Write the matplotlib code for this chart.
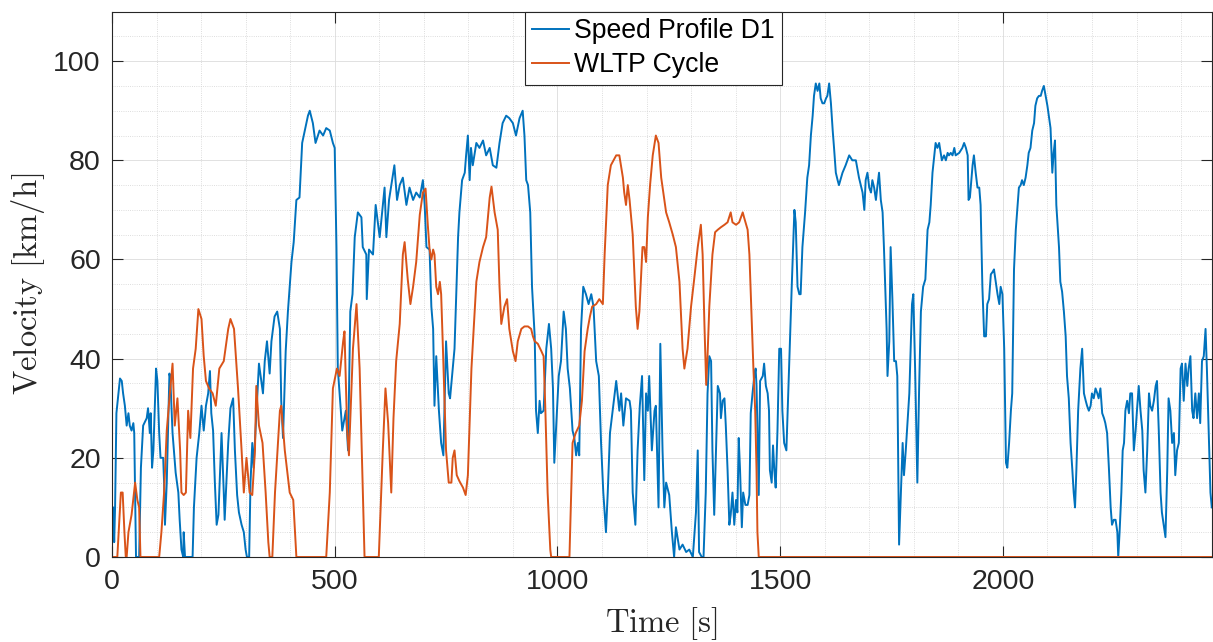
import matplotlib
matplotlib.use('Agg')
import matplotlib.pyplot as plt
from matplotlib.ticker import MultipleLocator

# Speed Profile D1 (time in s, speed in km/h)
d1_time = [
    0, 3, 5, 7, 10, 18, 22, 25, 29, 33,
    37, 40, 44, 48, 50, 54, 61, 65, 70, 78,
    81, 85, 87, 90, 93, 99, 102, 106, 109, 115,
    117, 119, 123, 129, 131, 136, 143, 149, 152, 156,
    160, 161, 164, 181, 184, 190, 196, 201, 206, 211,
    216, 220, 223, 227, 231, 235, 239, 246, 251, 253,
    261, 266, 272, 276, 281, 285, 291, 296, 300, 303,
    308, 311, 315, 318, 326, 330, 339, 343, 348, 354,
    358, 365, 371, 377, 380, 384, 390, 395, 403, 408,
    414, 421, 427, 433, 440, 444, 451, 457, 466, 474,
    481, 489, 496, 500, 504, 507, 517, 525, 530, 535,
    540, 545, 552, 560, 563, 571, 572, 577, 586, 592,
    601, 612, 616, 622, 634, 640, 646, 653, 661, 668,
    676, 683, 691, 698, 702, 706, 713, 717, 721, 724,
    728, 734, 739, 744, 750, 756, 759, 764, 769, 777,
    780, 786, 792, 795, 799, 803, 806, 810, 818, 825,
    833, 840, 848, 855, 863, 870, 877, 885, 892, 900,
    907, 915, 922, 926, 930, 934, 939, 943, 949, 952,
    956, 960, 963, 969, 975, 981, 986, 990, 993, 999,
    1003, 1008, 1014, 1019, 1023, 1028, 1034, 1038, 1042, 1046,
    1049, 1053, 1058, 1064, 1070, 1076, 1081, 1087, 1093, 1098,
    1103, 1109, 1113, 1118, 1124, 1132, 1135, 1139, 1143, 1148,
    1154, 1162, 1165, 1169, 1175, 1180, 1185, 1190, 1195, 1199,
    1203, 1206, 1212, 1218, 1221, 1227, 1231, 1236, 1240, 1244,
    1251, 1257, 1262, 1266, 1274, 1281, 1289, 1296, 1304, 1311,
    1315, 1318, 1324, 1328, 1333, 1337, 1341, 1345, 1348, 1352,
    1356, 1360, 1365, 1367, 1371, 1375, 1378, 1382, 1386, 1389,
    1393, 1397, 1401, 1404, 1407, 1410, 1414, 1417, 1422, 1427,
    1431, 1434, 1438, 1442, 1445, 1447, 1452, 1455, 1461, 1464,
    1468, 1472, 1475, 1477, 1481, 1484, 1487, 1490, 1494, 1498,
    1502, 1505, 1509, 1514, 1520, 1526, 1532, 1535, 1539, 1543,
    1546, 1550, 1556, 1561, 1565, 1569, 1573, 1576, 1580, 1584,
    1588, 1591, 1595, 1599, 1603, 1606, 1610, 1614, 1618, 1621,
    1625, 1629, 1632, 1640, 1647, 1655, 1662, 1670, 1677, 1685,
    1689, 1692, 1696, 1700, 1704, 1707, 1711, 1715, 1718, 1722,
    1726, 1730, 1733, 1736, 1739, 1741, 1745, 1748, 1752, 1756,
    1760, 1763, 1767, 1771, 1775, 1778, 1782, 1790, 1796, 1799,
    1803, 1808, 1812, 1816, 1821, 1826, 1831, 1835, 1838, 1842,
    1846, 1849, 1853, 1857, 1863, 1868, 1872, 1876, 1879, 1883,
    1887, 1891, 1894, 1902, 1909, 1913, 1917, 1921, 1923, 1926,
    1932, 1935, 1939, 1943, 1947, 1950, 1954, 1958, 1962, 1965,
    1969, 1973, 1977, 1980, 1984, 1988, 1992, 1995, 1999, 2003,
    2007, 2010, 2014, 2018, 2021, 2025, 2029, 2033, 2036, 2040,
    2043, 2047, 2051, 2055, 2058, 2062, 2066, 2070, 2073, 2077,
    2081, 2085, 2088, 2092, 2096, 2100, 2103, 2107, 2111, 2114,
    2117, 2120, 2126, 2129, 2133, 2137, 2141, 2144, 2148, 2152,
    2156, 2159, 2162, 2165, 2169, 2174, 2178, 2182, 2186, 2189,
    2193, 2197, 2200, 2204, 2208, 2212, 2215, 2219, 2223, 2227,
    2230, 2234, 2238, 2242, 2245, 2249, 2253, 2257, 2259, 2262,
    2266, 2269, 2272, 2275, 2279, 2283, 2286, 2290, 2294, 2298,
    2301, 2305, 2309, 2313, 2316, 2320, 2324, 2328, 2331, 2335,
    2339, 2343, 2346, 2350, 2354, 2357, 2361, 2365, 2369, 2372,
    2376, 2380, 2384, 2387, 2391, 2395, 2399, 2402, 2406, 2410,
    2414, 2417, 2421, 2425, 2428, 2432, 2436, 2440, 2443, 2447,
    2451, 2455, 2458, 2462, 2466, 2469,
]
d1_speed = [
    2, 10, 3, 10, 29, 36, 35.5, 33, 30.5, 26.5,
    29, 26.5, 25.5, 27, 25, 0, 0, 18, 26.5, 28,
    30, 25, 29, 18, 21.5, 38, 35.5, 25, 20, 20,
    15, 6.5, 15, 37, 36, 25, 17, 13, 7.5, 1.5,
    0, 5, 0, 0, 10, 20, 25, 30.5, 25.5, 30.5,
    33, 37.5, 29, 25.5, 15, 6.5, 8.5, 25, 13, 7.5,
    23, 30, 32, 21.5, 12.5, 9, 6.5, 5, 1.5, 0,
    0, 15, 23, 18, 32, 39, 33, 39.5, 43.5, 37,
    43.5, 48.5, 49.5, 46, 31.5, 24, 41.5, 49.5, 59.5, 63.5,
    72, 72.5, 83.5, 86, 89, 90, 87.5, 83.5, 86, 85,
    86.5, 86, 83.5, 82.5, 62.5, 38, 25.5, 29.5, 21.5, 49.5,
    53, 64.5, 69.5, 68.5, 62.5, 61, 52, 62, 61, 71,
    64.5, 74.5, 64.5, 72, 79, 72, 75, 76.5, 71, 74.5,
    72, 73.5, 72.5, 76, 71, 62.5, 62, 50.5, 46, 30.5,
    40.5, 29.5, 23, 20.5, 43.5, 33, 32, 37, 42, 64.5,
    69.5, 76, 77.5, 81, 85, 76, 82.5, 79, 83.5, 82.5,
    84, 81, 82.5, 79, 78.5, 83.5, 87.5, 89, 88.5, 87.5,
    85, 88.5, 90, 85, 76, 75, 69.5, 54.5, 44.5, 29.5,
    25, 31.5, 29, 29.5, 42, 47, 42, 34, 19, 29.5,
    36.5, 39.5, 49.5, 46, 38, 34, 25.5, 24, 20.5, 23,
    20.5, 46, 54.5, 53, 51, 53, 50.5, 39.5, 36.5, 23,
    13, 5, 13, 25, 29.5, 35.5, 33, 29.5, 33, 26.5,
    32, 31.5, 29.5, 13, 6.5, 21.5, 30.5, 36.5, 15.5, 33,
    29.5, 36.5, 21.5, 29.5, 30.5, 10, 43, 21.5, 10, 15,
    12.5, 5, 0, 6, 1.5, 2.5, 1, 1.5, 0, 9,
    21.5, 1, 0, 0, 13, 33, 40.5, 39.5, 21.5, 8.5,
    21.5, 34.5, 33, 28, 31.5, 32, 26.5, 17.5, 6.5, 8.5,
    13, 6.5, 11.5, 9, 24, 17.5, 6, 13, 10.5, 10.5,
    12.5, 29, 33, 36.5, 38, 34.5, 12.5, 35.5, 36.5, 39,
    34.5, 33, 29.5, 17.5, 15, 22.5, 17.5, 14, 25.5, 42,
    42, 29.5, 23, 21.5, 38, 54.5, 70, 67.5, 54.5, 53,
    53, 62.5, 69.5, 76.5, 79, 85, 89, 93, 95.5, 94,
    95.5, 92.5, 91.5, 91.5, 92.5, 93, 95.5, 91.5, 86, 82.5,
    77.5, 76, 75, 77.5, 79, 81, 80, 80, 76.5, 73.5,
    70, 76, 77.5, 74.5, 73.5, 76, 74.5, 72, 74.5, 77.5,
    72, 69.5, 62.5, 54.5, 46, 36.5, 43.5, 62.5, 52, 39.5,
    39.5, 36.5, 2.5, 13, 23, 16.5, 21.5, 33, 51, 53,
    38, 15, 34, 49.5, 54.5, 56, 66, 67.5, 71, 77.5,
    81, 83.5, 82.5, 83.5, 80, 81, 80, 81.5, 81, 81.5,
    81, 82.5, 81, 81.5, 82.5, 83.5, 82.5, 81, 72, 72.5,
    79, 81, 77.5, 74.5, 74.5, 71, 54.5, 44.5, 44.5, 51,
    52, 57, 57.5, 58, 55.5, 53, 51, 54.5, 53, 42,
    19, 18, 23, 29.5, 33, 58, 66, 71, 74.5, 75,
    76, 75, 76.5, 79, 81.5, 82.5, 86, 87.5, 91, 92.5,
    93, 93, 94, 95, 93, 91, 89, 86.5, 77.5, 81.5,
    84, 71, 62.5, 55.5, 53.5, 49.5, 44.5, 36.5, 32, 23,
    17.5, 13, 10, 17.5, 29.5, 38, 42, 33, 31.5, 30.5,
    29.5, 30.5, 33, 32, 34, 33, 32, 34, 29, 28,
    27, 25, 18, 10, 6.5, 7.5, 7.5, 5, 0, 5,
    13, 21.5, 23, 29.5, 31.5, 29, 33, 33, 21.5, 25.5,
    29.5, 34.5, 29.5, 25.5, 17.5, 13, 21.5, 33, 30.5, 29.5,
    31.5, 34.5, 35.5, 25.5, 13, 9, 6.5, 4, 17.5, 32,
    29.5, 23, 25, 16.5, 21.5, 23, 38, 39, 31.5, 39,
    34.5, 38, 40.5, 29.5, 28, 33, 28, 33, 27, 39.5,
    40.5, 46, 38, 25.5, 13, 10,
]

# WLTP cycle (time in s, speed in km/h)
wltp_time = [
    0, 12, 20, 24, 28, 31, 33, 37, 44, 52,
    57, 61, 64, 106, 111, 117, 123, 130, 136, 141,
    147, 153, 156, 161, 166, 171, 176, 182, 188, 194,
    201, 206, 211, 218, 226, 233, 241, 251, 261, 266,
    274, 283, 291, 296, 302, 309, 315, 321, 324, 330,
    338, 345, 351, 354, 360, 366, 377, 380, 388, 399,
    407, 414, 481, 489, 496, 505, 511, 519, 522, 528,
    532, 541, 549, 556, 567, 599, 608, 614, 620, 627,
    632, 638, 646, 653, 657, 664, 670, 676, 683, 691,
    698, 704, 709, 713, 717, 721, 724, 728, 732, 736,
    739, 743, 750, 756, 762, 765, 769, 774, 780, 788,
    794, 799, 807, 818, 825, 833, 840, 848, 852, 859,
    866, 870, 874, 881, 887, 892, 900, 906, 911, 919,
    926, 934, 941, 945, 949, 956, 964, 969, 973, 978,
    984, 986, 1027, 1031, 1034, 1041, 1049, 1055, 1061, 1068,
    1073, 1078, 1087, 1094, 1102, 1106, 1113, 1120, 1132, 1139,
    1147, 1150, 1154, 1158, 1162, 1169, 1176, 1180, 1184, 1191,
    1195, 1199, 1203, 1208, 1214, 1221, 1227, 1233, 1240, 1244,
    1251, 1259, 1266, 1274, 1281, 1285, 1292, 1300, 1307, 1315,
    1322, 1326, 1330, 1334, 1337, 1341, 1348, 1354, 1360, 1367,
    1375, 1382, 1389, 1393, 1401, 1408, 1416, 1419, 1427, 1431,
    1437, 1440, 1444, 1447, 1449, 1452, 2469,
]
wltp_speed = [
    0, 0, 13, 13, 5, 0, 0, 5, 8.5, 15,
    11.5, 10, 0, 0, 5, 13, 25.5, 33, 39, 26.5,
    32, 21.5, 13, 12.5, 13, 29.5, 24, 38, 42, 50,
    48, 40.5, 35.5, 34, 33, 30.5, 38, 39.5, 46, 48,
    46, 34, 21.5, 13, 20, 13, 12.5, 21.5, 34.5, 26.5,
    23, 13, 3, 0, 0, 13, 29.5, 30.5, 21.5, 13,
    11.5, 0, 0, 13, 34, 38, 36.5, 43.5, 45.5, 25.5,
    20.5, 42, 51, 38, 0, 0, 21.5, 34, 27, 13,
    28, 39.5, 47, 61, 63.5, 56, 51, 54.5, 59.5, 69,
    73.5, 74.3, 67, 62, 60, 62, 61, 54.5, 53, 55.5,
    53, 42, 21.5, 15, 15, 20, 21.5, 16.5, 15.3, 14,
    12.5, 16.5, 38, 55.5, 59.5, 62.5, 64.5, 72.5, 74.7, 69.5,
    66, 54.5, 47, 50.5, 52, 46, 41.5, 39.5, 43.5, 46,
    46.5, 46.5, 46, 44.5, 43.5, 43, 41.5, 40.5, 29.5, 13,
    1.5, 0, 0, 13, 23, 25, 26.5, 31.5, 41.5, 46,
    48.5, 50.5, 51, 52, 51, 61, 75, 79, 81, 81,
    76.5, 73.5, 71, 75, 72, 65, 50.5, 46, 49.5, 62.5,
    62.5, 59.5, 68.5, 75, 81, 85, 83.5, 76.5, 72, 69.5,
    67.5, 65, 62.5, 55.5, 42, 38, 42, 50.5, 56, 62.5,
    67, 61, 47, 34.7, 40.5, 50.5, 61, 65.5, 66, 66.5,
    67, 67.5, 69.5, 67.5, 67, 67.5, 69.5, 68.5, 66, 61,
    46, 38, 29.5, 17.5, 5, 0, 0,
]

plt.rcParams['mathtext.fontset'] = 'cm'
plt.rcParams['font.family'] = 'Liberation Sans'

fig = plt.figure(figsize=(12.13, 6.42), dpi=100)
ax = fig.add_axes([0.0923, 0.1324, 0.9067, 0.8496])

ax.plot(d1_time, d1_speed, color='#0072BD', lw=1.4, label='Speed Profile D1')
ax.plot(wltp_time, wltp_speed, color='#D95319', lw=1.4, label='WLTP Cycle')

ax.set_xlim(0, 2469)
ax.set_ylim(0, 110)
ax.xaxis.set_major_locator(MultipleLocator(500))
ax.xaxis.set_minor_locator(MultipleLocator(100))
ax.yaxis.set_major_locator(MultipleLocator(20))
ax.yaxis.set_minor_locator(MultipleLocator(5))

ax.grid(which='major', color='#dcdcdc', lw=0.6, ls='-')
ax.grid(which='minor', color='#d2d2d2', lw=0.6, ls=':')
ax.set_axisbelow(True)

ax.tick_params(which='major', direction='in', length=8, width=0.8,
               top=True, right=True, labelsize=20.5, colors='#262626')
ax.tick_params(axis='x', which='major', pad=9)
ax.tick_params(axis='y', which='major', pad=8)
ax.tick_params(which='minor', length=0, top=True, right=True)
for s in ax.spines.values():
    s.set_color('#262626')
    s.set_linewidth(0.8)

ax.set_xlabel(r'$\mathrm{Time\ [s]}$', fontsize=23.5, color='#262626')
ax.set_ylabel(r'$\mathrm{Velocity\ [km/h]}$', fontsize=23.5, color='#262626')
ax.xaxis.set_label_coords(0.5, -0.088)
ax.yaxis.set_label_coords(-0.059, 0.5)

leg = ax.legend(loc='upper left', bbox_to_anchor=(0.3755, 1.0), borderaxespad=0,
                fontsize=19.2, fancybox=False, framealpha=1, edgecolor='#262626',
                handlelength=1.4, handletextpad=0.2, borderpad=0.25,
                labelspacing=0.3)
leg.get_frame().set_linewidth(0.8)

fig.savefig('out.png', dpi=100)
